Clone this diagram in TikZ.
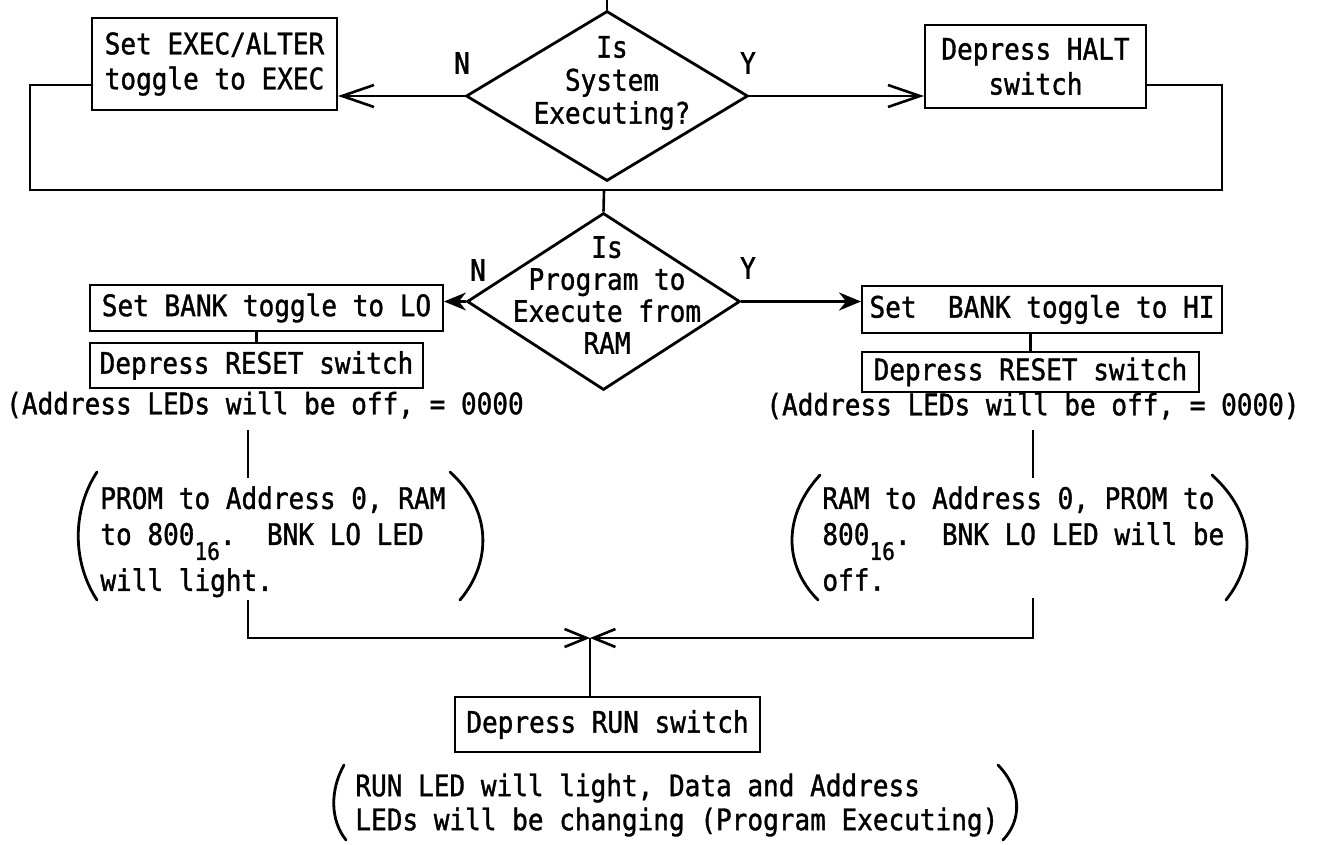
\documentclass[tikz,border=0pt]{standalone}
\usepackage{fontspec}
\newfontfamily\tw[FakeStretch=0.88,FakeBold=1.2]{DejaVu Sans Mono}
\usetikzlibrary{shapes.geometric,arrows.meta}
\newcommand\subsx[1]{\raisebox{-7.5pt}{\fontsize{12}{12}\selectfont #1}}
\begin{document}
\begin{tikzpicture}[x=0.5pt,y=-0.5pt,
  every node/.style={font=\tw\fontsize{14.8}{17.5}\selectfont},
  box/.style={draw, line width=1pt, inner sep=0pt, align=center},
  dia/.style={draw, diamond, line width=1.4pt, inner sep=0pt},
  txt/.style={inner sep=0pt, align=center},
  ltxt/.style={inner sep=0pt, align=left},
  conn/.style={line width=1.3pt},
  par/.style={line width=1.4pt, line cap=round},
  barb/.style={-{Straight Barb[length=16pt,width=11pt]}},
  sarr/.style={-{Stealth[length=11pt,width=9pt]}},
  xbarb/.style={-{Straight Barb[length=11pt,width=9pt]}}
]
\useasboundingbox (0,0) rectangle (1317,845);

% boxes
\node[box, minimum width=122.5pt, minimum height=46pt] (b1) at (214.5,64) {Set EXEC/ALTER\\toggle to EXEC};
\node[box, minimum width=110.5pt, minimum height=41.5pt] (b2) at (1035.5,66.5) {Depress HALT\\switch};
\node[box, minimum width=176.5pt, minimum height=23pt] (b3) at (266.5,308) {Set BANK toggle to LO};
\node[box, minimum width=166.5pt, minimum height=22.5pt] (b4) at (256.5,365.5) {Depress RESET switch};
\node[box, minimum width=180pt, minimum height=23.5pt] (b5) at (1042,309.5) {Set~~BANK toggle to HI};
\node[box, minimum width=168.5pt, minimum height=20pt] (b6) at (1030.5,372) {Depress RESET switch};
\node[box, minimum width=152.5pt, minimum height=27.5pt] (b7) at (607.5,724.5) {Depress RUN switch};

% diamonds
\node[dia, minimum width=141pt, minimum height=85pt] (d1) at (607,96) {};
\node[txt, font=\tw\fontsize{14.8}{16.5}\selectfont] (d1t) at (612,83) {Is\\System\\Executing?};
\node[dia, minimum width=136.5pt, minimum height=88.5pt] (d2) at (603.5,301.5) {};
\node[txt, font=\tw\fontsize{14.8}{16}\selectfont] (d2t) at (607,295) {Is\\Program to\\Execute from\\RAM};

% labels
\node[txt] (n1) at (462,63) {N};
\node[txt] (y1) at (748,63) {Y};
\node[txt] (n2) at (478,270) {N};
\node[txt] (y2) at (748,268) {Y};

% notes
\node[txt] (t1) at (265,405) {(Address LEDs will be off, = 0000};
\node[txt] (t2) at (1033,406) {(Address LEDs will be off, = 0000)};
\node[ltxt, anchor=north west, font=\tw\fontsize{14.8}{18}\selectfont] (pg1) at (100,486)
  {PROM to Address 0, RAM\\to 800\subsx{16}.~~BNK LO LED\\[3pt]will light.};
\node[ltxt, anchor=north west, font=\tw\fontsize{14.8}{18}\selectfont] (pg2) at (822,486)
  {RAM to Address 0, PROM to\\800\subsx{16}.~~BNK LO LED will be\\[3pt]off.};
\node[ltxt, anchor=west, font=\tw\fontsize{14.8}{17}\selectfont] (fin) at (355,805)
  {RUN LED will light, Data and Address\\LEDs will be changing (Program Executing)};

% parentheses
\draw[par] (97,472) .. controls (72,510) and (72,562) .. (97,600);
\draw[par] (450,472) .. controls (492,510) and (492,562) .. (460,600);
\draw[par] (820,475) .. controls (783,515) and (783,565) .. (818,600);
\draw[par] (1212,475) .. controls (1256,515) and (1256,562) .. (1226,600);
\draw[par] (344,765) .. controls (330,790) and (330,820) .. (346,840);
\draw[par] (998,765) .. controls (1022,790) and (1022,820) .. (1003,840);

% coordinates
\coordinate (ctop) at (619,0);
\coordinate (c1) at (30,190);
\coordinate (c2) at (1222,190);
\coordinate (jt) at (604,190);
\coordinate (s1a) at (248,430);
\coordinate (s1b) at (248,478);
\coordinate (s1c) at (248,600);
\coordinate (s2a) at (1033,430);
\coordinate (s2b) at (1033,478);
\coordinate (s2c) at (1033,598);
\coordinate (jx) at (590,638);

% connectors
\draw[conn] (d1.north |- ctop) -- (d1.north);
\draw[conn,barb] (d1.west) -- (d1.west -| b1.east);
\draw[conn,barb] (d1.east) -- (d1.east -| b2.west);
\draw[conn] ([yshift=-10.5pt]b1.west) -| (c1) -- (jt);
\draw[conn] ([yshift=-9.25pt]b2.east) -| (c2) -- (jt);
\draw[conn] (jt) -- (d2.north);
\draw[conn,sarr] (d2.west) -- (d2.west -| b3.east);
\draw[conn,sarr] (d2.east) -- (d2.east -| b5.west);
\draw[conn] (b4.north |- b3.south) -- (b4.north);
\draw[conn] (b6.north |- b5.south) -- (b6.north);
\draw[conn] (s1a) -- (s1b);
\draw[conn] (s2a) -- (s2b);
\draw[conn,xbarb] (s1c) |- (jx);
\draw[conn,xbarb] (s2c) |- (jx);
\draw[conn] (jx) -- (jx |- b7.north);
\end{tikzpicture}
\end{document}
